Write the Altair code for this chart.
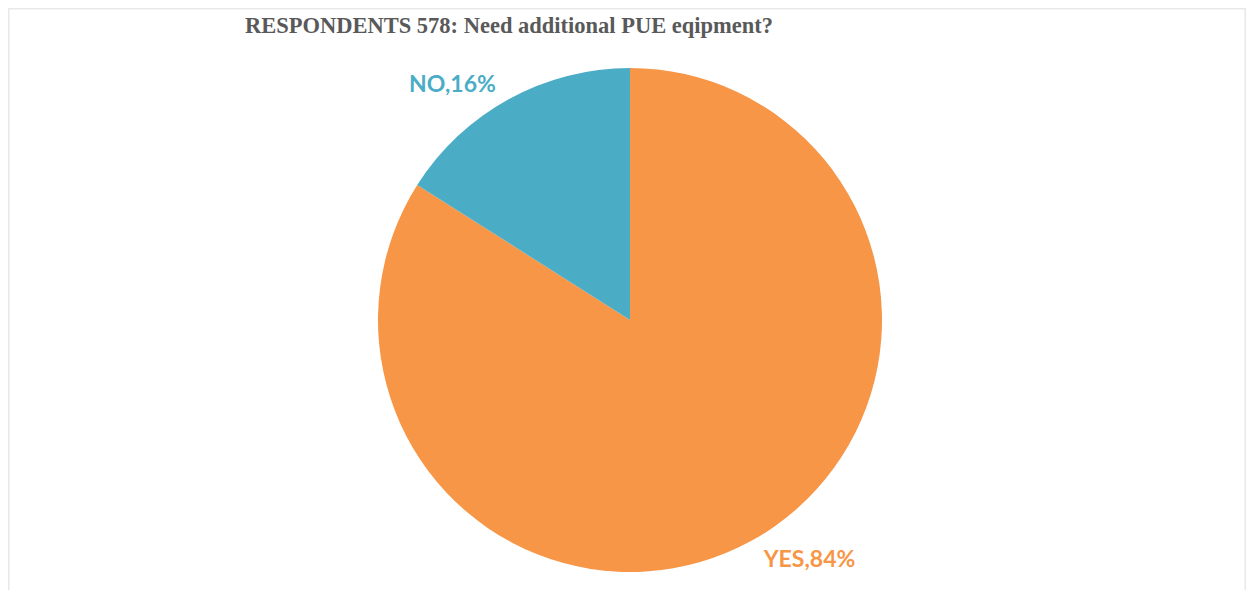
import altair as alt
import pandas as pd

categories = ["YES", "NO"]
values = [84, 16]
colors = ["#F79646", "#4BACC6"]
title_text = "RESPONDENTS 578: Need additional PUE eqipment?"

df = pd.DataFrame({
    "cat": categories,
    "val": values,
    "ord": list(range(len(categories))),
})
df["label"] = df["cat"] + "," + df["val"].astype(str) + "%"

CX, CY, R = 622, 312, 252

base = alt.Chart(df).encode(
    theta=alt.Theta("val:Q", stack=True),
    order=alt.Order("ord:Q"),
    color=alt.Color("cat:N", scale=alt.Scale(domain=categories, range=colors), legend=None),
)

pie = base.mark_arc(outerRadius=R, stroke=None).encode(
    x=alt.value(CX), y=alt.value(CY)
)

lab_font = dict(font="Lato", fontWeight="bold", fontSize=23, align="center", baseline="middle")

lab_yes = base.mark_text(radius=300, dx=35, dy=-23, **lab_font).encode(
    x=alt.value(CX), y=alt.value(CY), text="label:N",
    opacity=alt.condition(alt.datum.cat == "YES", alt.value(1), alt.value(0)),
)
lab_no = base.mark_text(radius=300, dx=-33, dy=28, **lab_font).encode(
    x=alt.value(CX), y=alt.value(CY), text="label:N",
    opacity=alt.condition(alt.datum.cat == "NO", alt.value(1), alt.value(0)),
)

title = alt.Chart(pd.DataFrame({"t": [title_text]})).mark_text(
    font="Liberation Serif", fontWeight="bold", fontSize=22.5, color="#595959",
    align="center", baseline="alphabetic",
).encode(text="t:N", x=alt.value(501), y=alt.value(25))

border_df = pd.DataFrame({"k": [0]})
left = alt.Chart(border_df).mark_rule(color="#e8e8e8", strokeWidth=1.5).encode(
    x=alt.value(0.75), y=alt.value(0), y2=alt.value(582))
top = alt.Chart(border_df).mark_rule(color="#e8e8e8", strokeWidth=1.5).encode(
    x=alt.value(0), x2=alt.value(1238), y=alt.value(0.75))
right = alt.Chart(border_df).mark_rule(color="#e8e8e8", strokeWidth=1.5).encode(
    x=alt.value(1237.25), y=alt.value(0), y2=alt.value(582))

chart = alt.layer(left, top, right, pie, lab_yes, lab_no, title).properties(
    width=1238, height=582,
    autosize=alt.AutoSizeParams(type="none"),
    padding=0,
    background="white",
).configure_view(stroke=None)

chart.save("out.html", embed_options={"renderer": "svg", "actions": False})
